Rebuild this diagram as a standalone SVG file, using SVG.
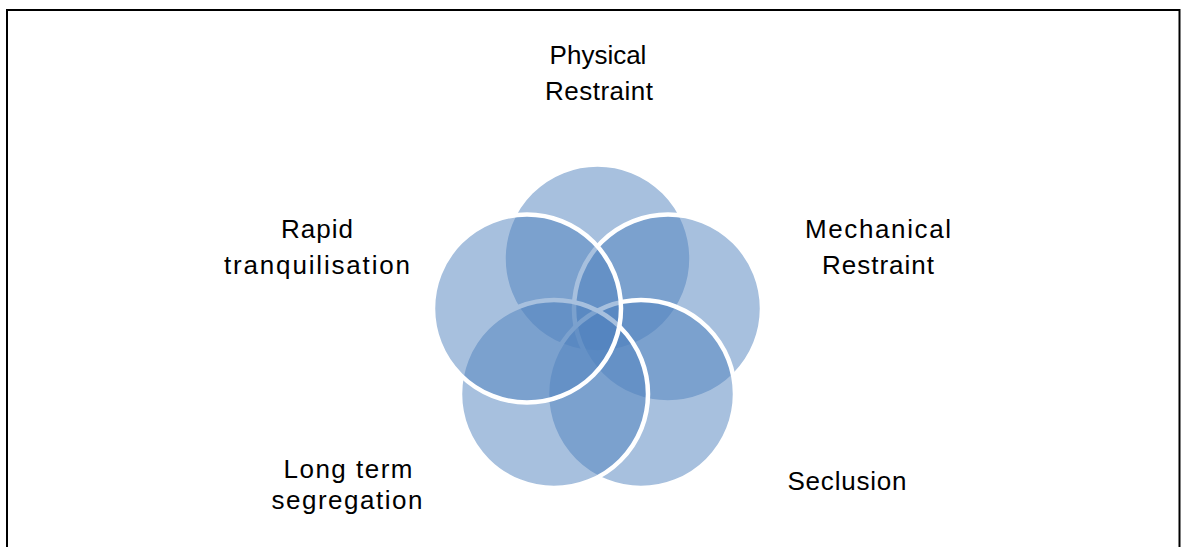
<svg xmlns="http://www.w3.org/2000/svg" width="1181" height="547" viewBox="0 0 1181 547">
<style>
.c{fill:#4F81BD;fill-opacity:0.5;stroke:#FFFFFF;stroke-width:4.5}
.t{font-family:"Liberation Sans",Arial,sans-serif;font-size:26px;fill:#000000;text-anchor:middle}
</style>
<rect x="0" y="0" width="1181" height="547" fill="#FFFFFF"/>
<path d="M7,547 V10 H1179.5 V547" fill="none" stroke="#000000" stroke-width="2"/>
<g id="connectors"></g>
<g id="node-physical">
<circle class="c" cx="597.5" cy="258.5" r="94"/>
<text class="t" x="598" y="63.5">Physical</text>
<text class="t" x="599" y="99.5" textLength="108" lengthAdjust="spacing">Restraint</text>
</g>
<g id="node-mechanical">
<circle class="c" cx="668" cy="308.5" r="94"/>
<text class="t" x="878" y="237.5" textLength="146" lengthAdjust="spacing">Mechanical</text>
<text class="t" x="878" y="273.5" textLength="112" lengthAdjust="spacing">Restraint</text>
</g>
<g id="node-seclusion">
<circle class="c" cx="641" cy="394" r="94"/>
<text class="t" x="847" y="490" textLength="119" lengthAdjust="spacing">Seclusion</text>
</g>
<g id="node-longterm">
<circle class="c" cx="554" cy="394" r="94"/>
<text class="t" x="348" y="478" textLength="129" lengthAdjust="spacing">Long term</text>
<text class="t" x="347" y="509" textLength="151" lengthAdjust="spacing">segregation</text>
</g>
<g id="node-rapid">
<circle class="c" cx="527" cy="308.5" r="94"/>
<text class="t" x="317" y="237.5" textLength="72" lengthAdjust="spacing">Rapid</text>
<text class="t" x="317" y="273.5" textLength="186" lengthAdjust="spacing">tranquilisation</text>
</g>
</svg>
